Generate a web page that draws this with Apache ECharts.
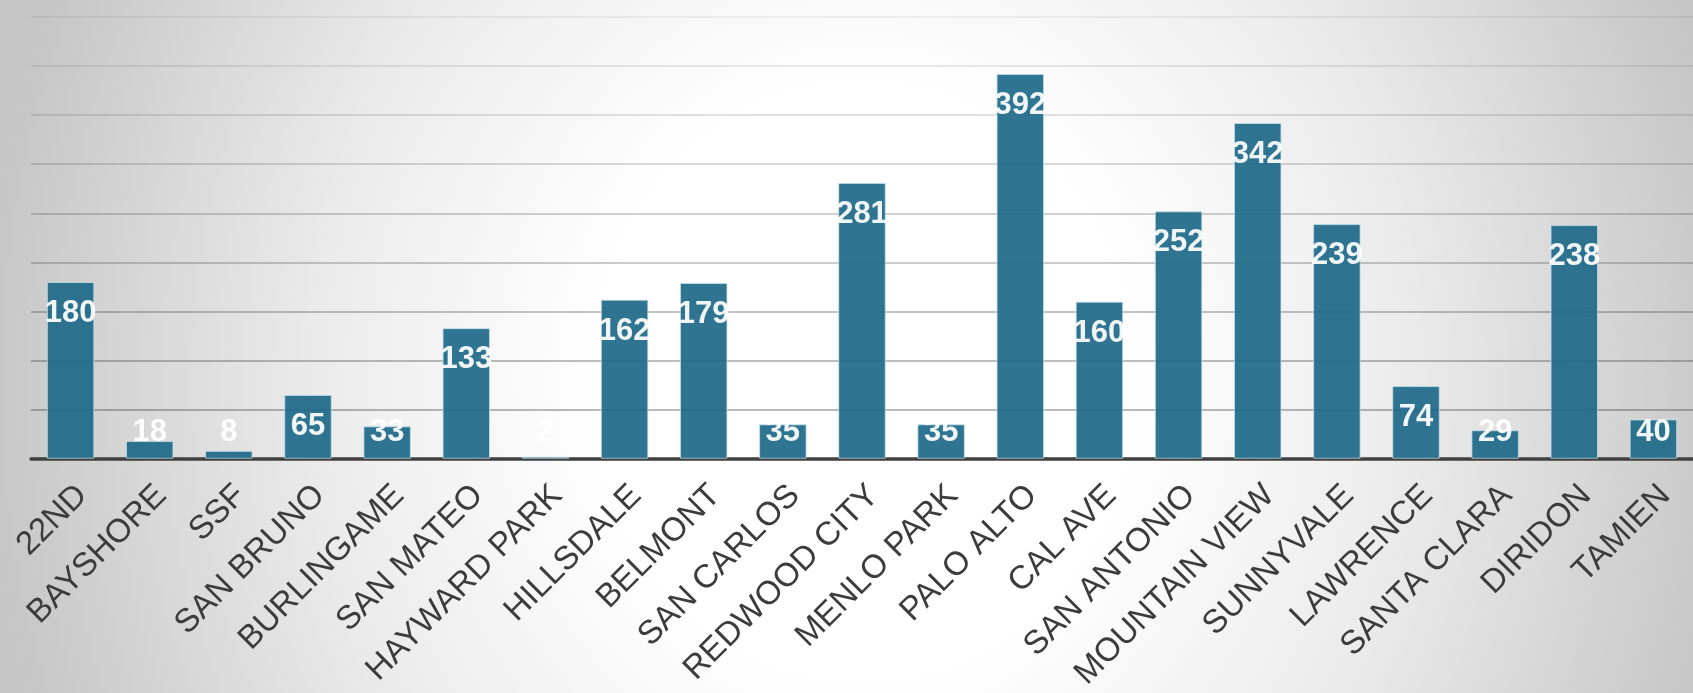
<!DOCTYPE html>
<html>
<head>
<meta charset="utf-8">
<script src="https://cdn.jsdelivr.net/npm/echarts@6/dist/echarts.min.js"></script>
<style>
  html, body { margin: 0; padding: 0; }
  body {
    width: 1693px; height: 693px; overflow: hidden;
    background: radial-gradient(ellipse 52% 140% at 51% 55%, #ffffff 0%, #ffffff 30%, #ebebeb 62%, #c6c6c6 100%);
  }
  #chart { width: 1693px; height: 693px; }
</style>
</head>
<body>
<div id="chart"></div>
<script>
const stations = ['22ND', 'BAYSHORE', 'SSF', 'SAN BRUNO', 'BURLINGAME', 'SAN MATEO', 'HAYWARD PARK',
  'HILLSDALE', 'BELMONT', 'SAN CARLOS', 'REDWOOD CITY', 'MENLO PARK', 'PALO ALTO', 'CAL AVE',
  'SAN ANTONIO', 'MOUNTAIN VIEW', 'SUNNYVALE', 'LAWRENCE', 'SANTA CLARA', 'DIRIDON', 'TAMIEN'];
const riders = [180, 18, 8, 65, 33, 133, 2, 162, 179, 35, 281, 35, 392, 160, 252, 342, 239, 74, 29, 238, 40];
const yMax = 450;
const yInterval = 50;

const labelFont = "'Liberation Sans Narrow', 'Liberation Sans', Arial, sans-serif";

const barData = riders.map(v => {
  const small = v < 57;
  return {
    value: v,
    label: small ? { position: 'insideBottom', distance: 11 } : { position: 'insideTop', distance: 16 }
  };
});

const gridColors = ['rgba(0,0,0,0)', 'rgba(70,70,70,0.5)', 'rgba(70,70,70,0.47)', 'rgba(70,70,70,0.43)',
  'rgba(70,70,70,0.38)', 'rgba(70,70,70,0.33)', 'rgba(70,70,70,0.27)', 'rgba(70,70,70,0.21)',
  'rgba(70,70,70,0.15)', 'rgba(70,70,70,0.1)'];

const chart = echarts.init(document.getElementById('chart'), null, { renderer: 'canvas' });
chart.setOption({
  backgroundColor: 'transparent',
  animation: false,
  grid: { left: 31, top: 17, width: 1678, height: 450, containLabel: false },
  xAxis: {
    type: 'category',
    data: stations,
    axisLine: { show: true, lineStyle: { color: '#404040', width: 3.5 } },
    axisTick: { show: false },
    axisLabel: {
      rotate: 45,
      interval: 0,
      margin: 20,
      verticalAlign: 'top',
      color: '#3c3c3c',
      fontSize: 33,
      fontFamily: "'Liberation Sans', Arial, sans-serif"
    }
  },
  yAxis: {
    type: 'value',
    min: 0,
    max: yMax,
    interval: yInterval,
    axisLabel: { show: false },
    axisLine: { show: false },
    axisTick: { show: false },
    splitLine: { show: true, lineStyle: { color: gridColors, width: 1.5 } }
  },
  series: [{
    type: 'bar',
    data: barData,
    barWidth: '60%',
    itemStyle: {
      color: '#1f6a8a',
      opacity: 0.93,
      borderColor: 'rgba(200,225,235,0.8)',
      borderWidth: 1
    },
    label: {
      show: true,
      color: '#ffffff',
      fontWeight: 'bold',
      fontSize: 31,
      fontFamily: labelFont
    }
  }]
});
</script>
</body>
</html>
